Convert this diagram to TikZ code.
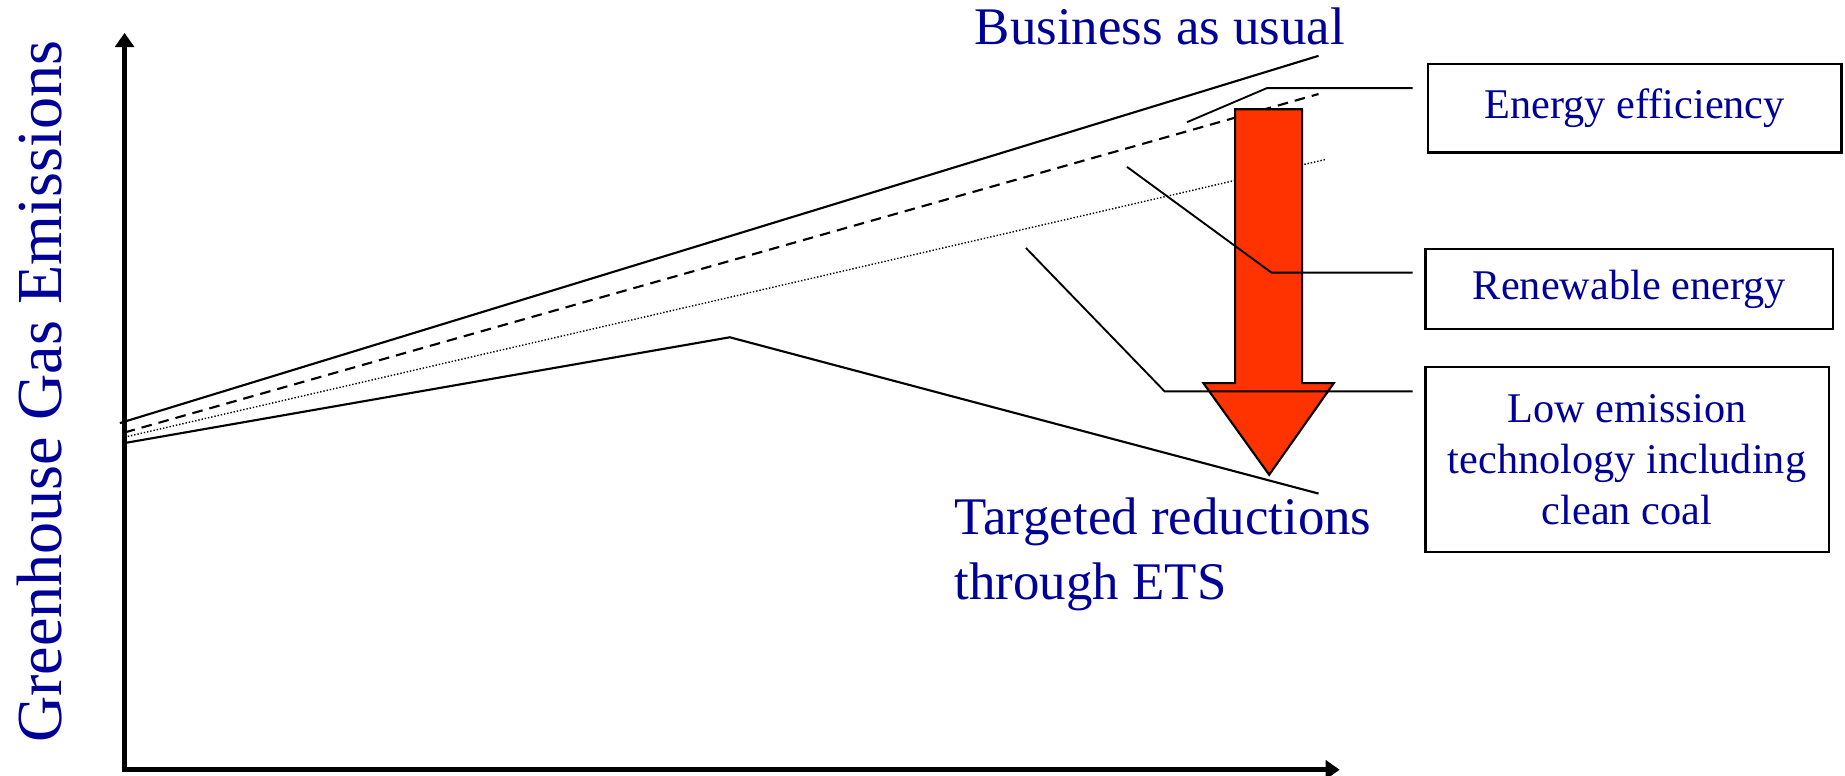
\documentclass[tikz,border=0pt]{standalone}
\usepackage{fontspec}
\setmainfont{Liberation Serif}
\usetikzlibrary{arrows.meta}
\definecolor{txtblue}{RGB}{0,0,153}
\definecolor{arrowred}{RGB}{255,51,0}
\begin{document}
\begin{tikzpicture}[x=0.5pt,y=-0.5pt,
  axis/.style={line width=2pt, line join=miter, {Triangle[length=6pt,width=8pt]}-{Triangle[length=6pt,width=8pt]}},
  series/.style={line width=0.9pt},
  dashedseries/.style={line width=0.9pt, dash pattern=on 4.5pt off 3pt},
  dottedseries/.style={line width=0.6pt, dash pattern=on 0.6pt off 0.8pt},
  leader/.style={line width=0.8pt},
  labelbox/.style={draw, line width=0.9pt, text=txtblue, font=\fontsize{18}{21.8}\selectfont, align=center, inner sep=0pt},
  bigtext/.style={text=txtblue, font=\fontsize{22.5}{27.5}\selectfont, inner sep=0pt},
  bigarrow/.style={draw, line width=0.9pt, fill=arrowred, line join=miter},
]
\useasboundingbox (0,0) rectangle (1570,660.3);

% axes
\coordinate (O) at (106,655);
\coordinate (ytop) at (106,28);
\coordinate (xend) at (1140,655);

% axis label
\node[rotate=90, anchor=base, text=txtblue, inner sep=0pt, font=\fontsize{27.3}{32}\selectfont] (ylab) at (52,333.5) {Greenhouse Gas Emissions};

% series coordinates
\coordinate (bau0) at (102,360);
\coordinate (bau1) at (1122,47.5);
\coordinate (eff0) at (106,368);
\coordinate (eff1) at (1122,80);
\coordinate (ren0) at (106,372);
\coordinate (ren1) at (1129,135.5);
\coordinate (tg0) at (106,377);
\coordinate (tgpk) at (621,287);
\coordinate (tg1) at (1122,420);

\draw[series] (bau0) -- (bau1);
\draw[dashedseries] (eff0) -- (eff1);
\draw[dottedseries] (ren0) -- (ren1);
\draw[series] (tg0) -- (tgpk) -- (tg1);

% big arrow
\coordinate (a1) at (1051,93);
\coordinate (a2) at (1108,93);
\coordinate (a3) at (1108,326);
\coordinate (a4) at (1135,326);
\coordinate (a5) at (1080,404);
\coordinate (a6) at (1024,326);
\coordinate (a7) at (1051,326);
\draw[bigarrow] (a1) -- (a2) -- (a3) -- (a4) -- (a5) -- (a6) -- (a7) -- cycle;

% axes drawn
\draw[axis] (ytop) -- (O) -- (xend);

% texts
\node[bigtext, anchor=base] (bau) at (987,38) {Business as usual};
\node[bigtext, anchor=base west, align=left] (tgt) at (812,510) {Targeted reductions\\through ETS};

% boxes
\node[labelbox, minimum width=176pt, minimum height=37.75pt] (ee) at (1391,92) {Energy efficiency};
\node[labelbox, minimum width=173.5pt, minimum height=34pt] (re) at (1386.5,246) {Renewable energy};
\node[labelbox, minimum width=171.5pt, minimum height=79pt] (le) at (1384.5,391) {Low emission\\technology including\\clean coal};

% leaders
\coordinate (eeA) at (1010,104);
\coordinate (eeB) at (1078,75);
\coordinate (eeC) at (1202,75);
\coordinate (reA) at (959,142);
\coordinate (reB) at (1082,232);
\coordinate (reC) at (1202,232);
\coordinate (leA) at (873,211);
\coordinate (leB) at (991,333);
\coordinate (leC) at (1202,333);
\draw[leader] (eeA) -- (eeB) -- (eeC);
\draw[leader] (reA) -- (reB) -- (reC);
\draw[leader] (leA) -- (leB) -- (leC);
\end{tikzpicture}
\end{document}
